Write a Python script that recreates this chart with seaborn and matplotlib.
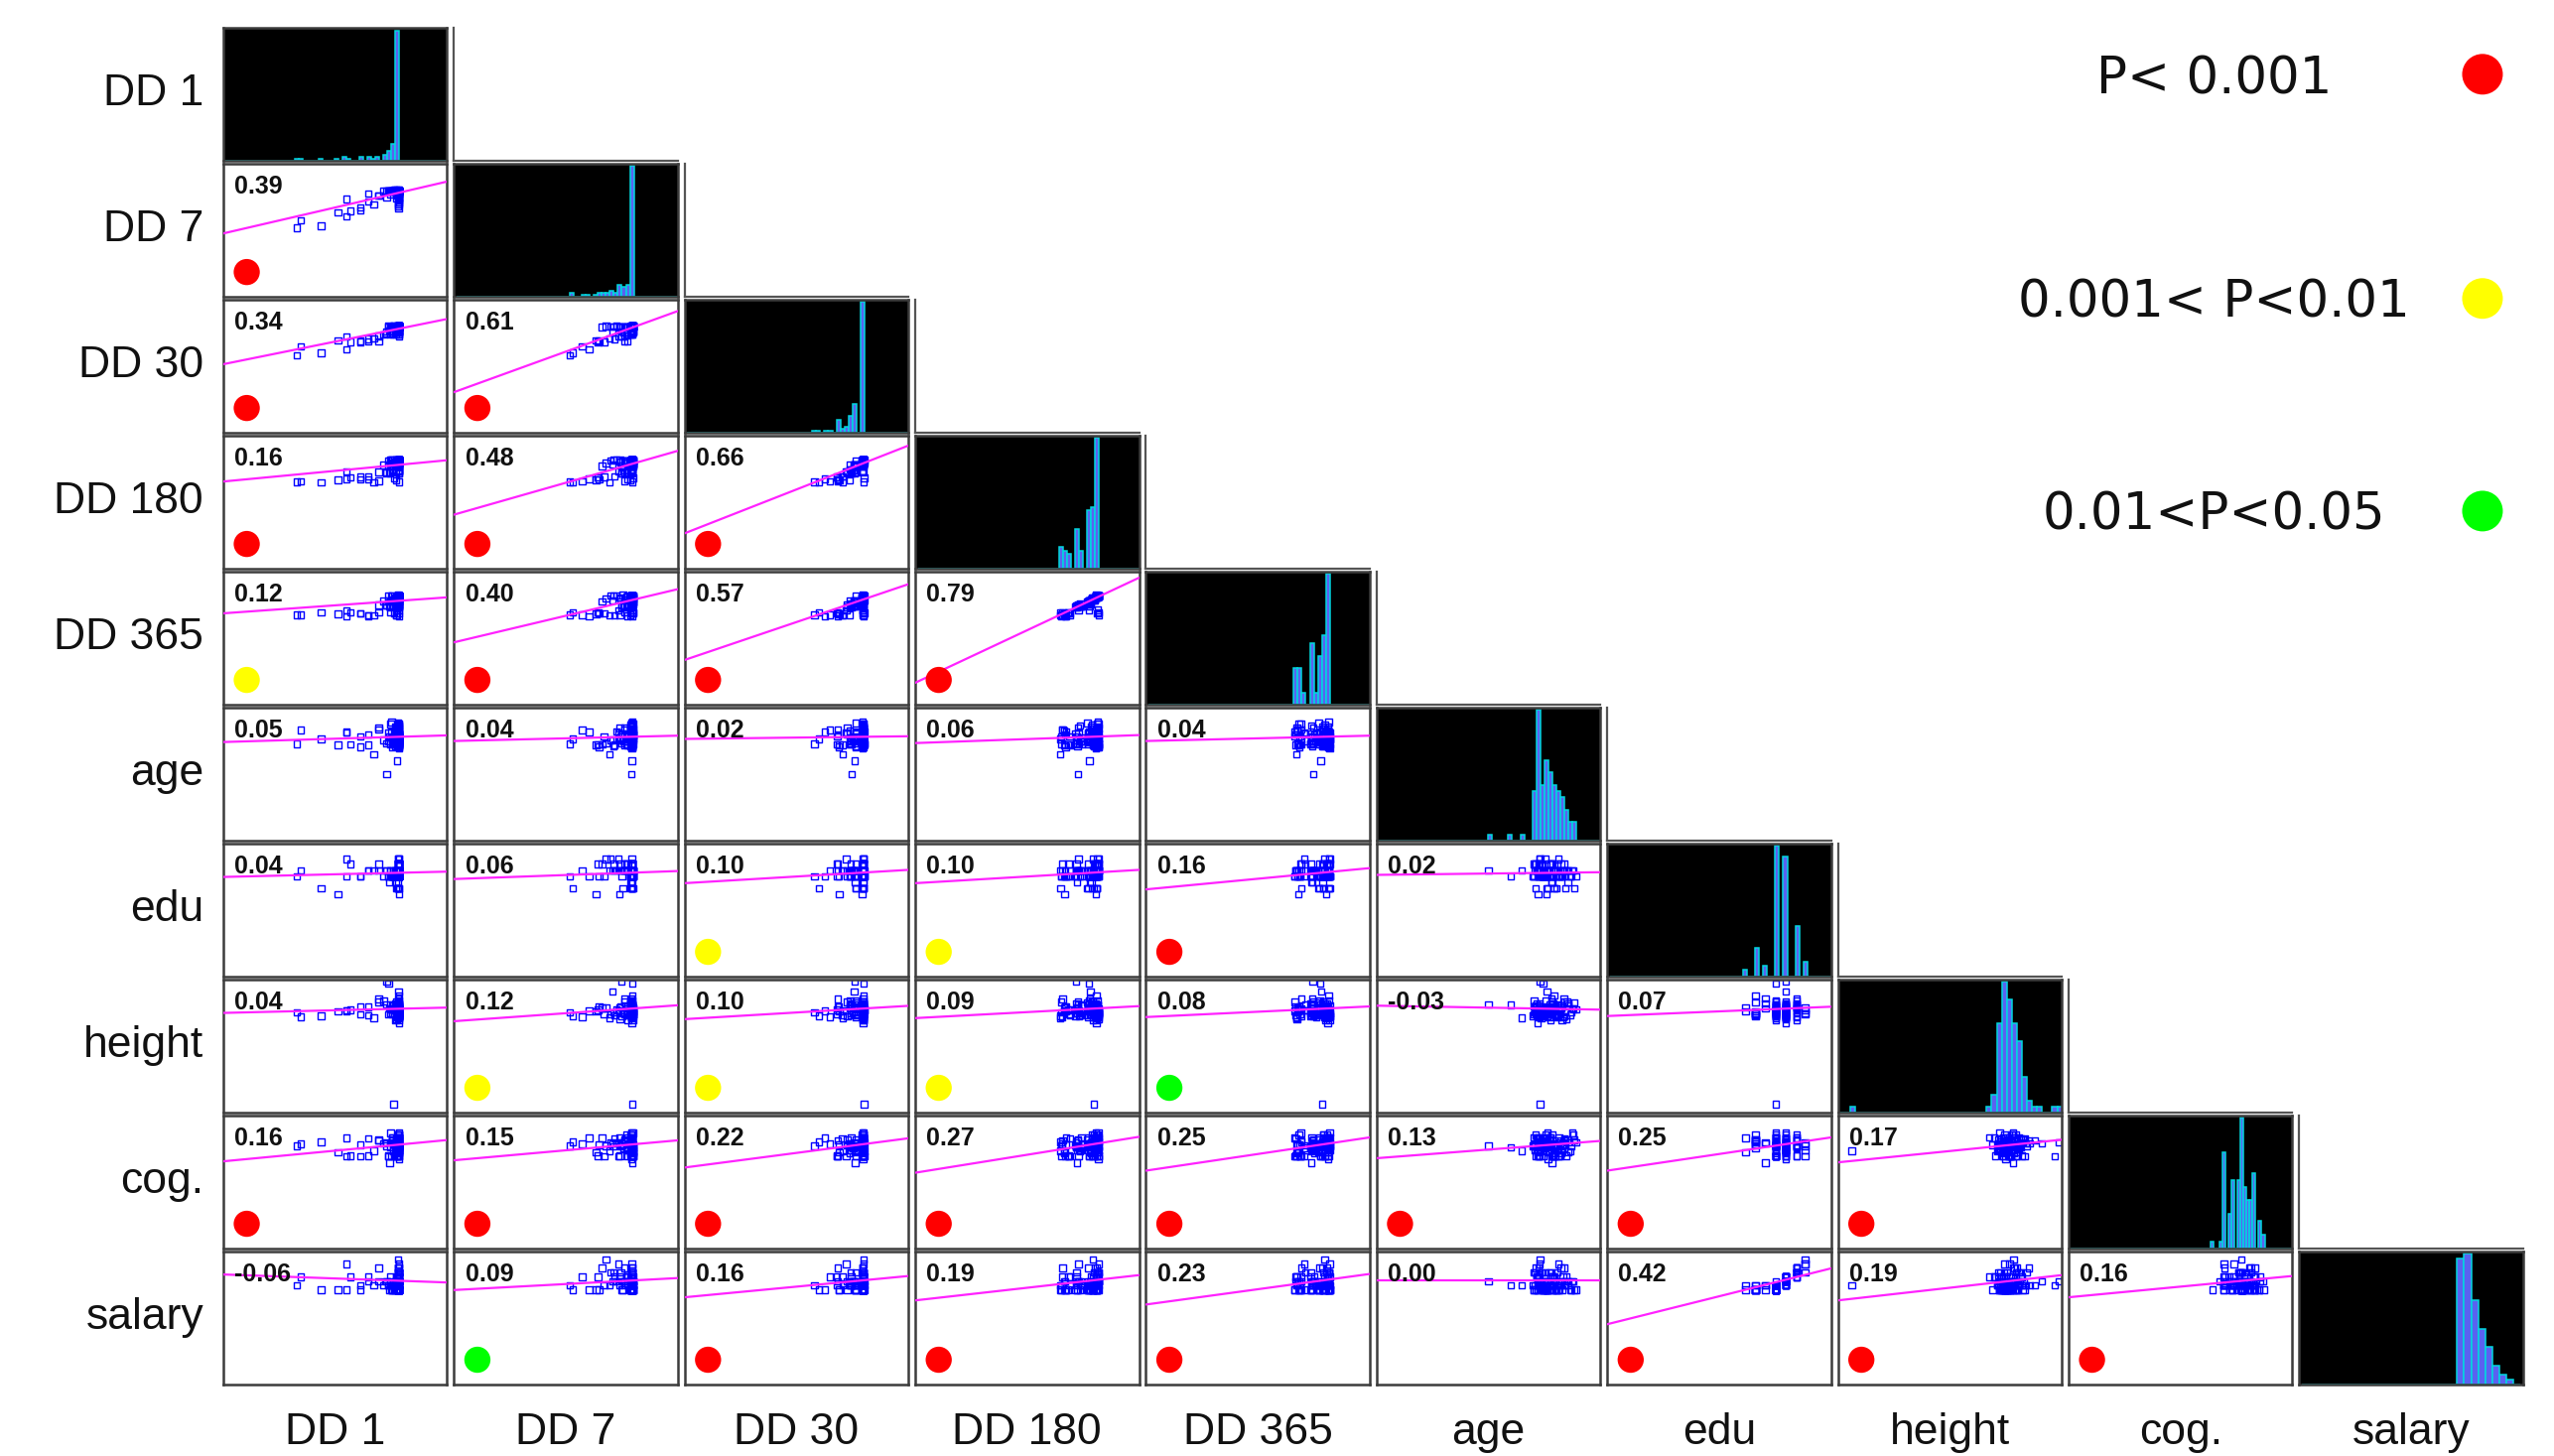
import numpy as np
import pandas as pd
import matplotlib
matplotlib.use("Agg")
import matplotlib.pyplot as plt
import seaborn as sns

sns.set_theme(style="white")
plt.rcParams["font.family"] = ["Liberation Sans", "DejaVu Sans"]

variables = ["DD 1", "DD 7", "DD 30", "DD 180", "DD 365",
             "age", "edu", "height", "cog.", "salary"]

# Standardized scores (z) for each participant, one list per measure
dd1 = [-10.0, -2.9, -7.6, -0.22, -5.1, 0.12, -3.7, -9.6, 0.05, -5.9,
       -1.9, 0.1, -4.7, -0.5, -2.4, -0.02, -3.7, -1.1, -5.1, -1.4,
       -2.9, 0.13, -0.8, 0.08, -1.9, -0.12, -0.2, 0.11, 0.02, -0.46,
       -0.65, 0.06, -1.1, 0.13, -0.08, -0.18, 0.1, 0.04, -0.78, 0.12,
       0.09, -0.52, 0.13, -0.04, -0.35, -0.21, 0.07, 0.12, 0.01, 0.11,
       -0.16, 0.1, 0.13, 0.05, -0.57, 0.11, -0.06, 0.12, 0.08, 0.13,
       -0.9, 0.02, -0.23, 0.12, 0.09, 0.13, -0.3, 0.11, 0.06, -0.19,
       0.12, 0.08, 0.13, -0.03, -0.6, 0.11, 0.04, 0.13, 0.09, 0.12,
       -0.95, 0.13, -0.07, 0.11, 0.12, 0.05, -0.4, 0.13, 0.08, 0.12,
       0.11, 0.13, 0.1, -0.7, 0.12, 0.09, 0.13, -0.13, 0.11, 0.1]

dd7 = [-5.8, -0.1, -5.5, 0.32, -3.9, 0.41, -2.4, -4.6, 0.22, -3.2,
       -0.4, 0.36, -3.0, 0.27, -1.9, 0.45, -2.9, -0.7, -1.0, 0.3,
       -1.4, 0.19, 0.38, -0.12, -0.42, 0.33, 0.48, -0.66, 0.25, 0.4,
       0.35, -0.05, 0.29, 0.44, -0.35, 0.21, 0.37, 0.31, -0.16, 0.42,
       -1.6, 0.39, -0.74, 0.34, 0.47, 0.23, -0.45, 0.36, -2.2, 0.43,
       0.28, -0.08, 0.4, 0.33, 0.24, -1.2, 0.35, 0.38, -0.2, 0.31,
       0.37, 0.27, 0.42, -0.9, 0.44, 0.34, 0.22, 0.39, 0.32, 0.41,
       0.29, -2.6, 0.35, 0.25, 0.4, 0.36, 0.31, 0.45, 0.33, -1.5,
       0.42, 0.3, 0.37, 0.34, 0.28, -0.55, 0.39, 0.32, 0.41, 0.36,
       0.33, 0.4, -1.8, 0.43, 0.35, 0.38, 0.3, -0.85, 0.37, 0.34]

dd30 = [-4.4, -2.1, -4.0, -0.32, -3.4, -0.83, -2.15, -2.9, 0.41, -1.95,
        -1.2, 0.36, -2.2, -0.76, -1.6, 0.47, -2.0, -0.45, -1.27, -0.9,
        -1.65, 0.33, -0.38, -0.8, -2.1, 0.44, -0.52, -1.15, 0.29, -0.86,
        -0.3, 0.42, -0.72, -0.41, 0.38, -0.95, 0.45, -0.35, -0.8, 0.31,
        -0.48, 0.4, 0.35, -0.33, 0.49, 0.43, -0.56, 0.37, 0.46, -0.39,
        0.39, 0.44, -0.29, 0.34, 0.42, 0.48, -0.44, 0.36, 0.41, 0.33,
        0.45, 0.38, 0.43, 0.3, 0.47, -0.36, 0.4, 0.35, 0.44, 0.39,
        0.42, 0.36, 0.46, 0.41, 0.33, 0.44, 0.38, 0.47, 0.4, 0.37,
        0.43, 0.39, 0.35, 0.45, 0.42, 0.37, 0.48, 0.41, 0.34, 0.44,
        0.4, 0.46, 0.38, 0.43, 0.36, 0.42, 0.45, 0.39, 0.47, 0.41]

dd180 = [-2.8, -2.45, -2.9, -1.2, -2.35, -1.3, -2.0, -2.75, -0.15, -2.5,
         -1.15, 0.3, -2.1, -0.8, -2.95, 0.72, -2.4, -1.35, -1.1, -0.05,
         -1.95, 0.22, -1.25, -0.92, -2.7, 0.85, -0.2, -1.4, 0.41, -0.75,
         -0.1, 0.66, -1.18, 0.0, 0.35, -2.55, 0.78, -0.22, -1.32, 0.27,
         0.05, 0.9, 0.45, -0.12, -2.15, 0.18, -0.85, 0.63, 0.33, 0.08,
         0.25, 0.74, -0.18, 0.5, -1.22, 0.81, -0.02, 0.38, 0.69, -0.98,
         -0.08, 0.87, 0.29, 0.6, 0.1, 0.76, 0.46, -1.08, 0.7, 0.2,
         0.83, -0.14, 0.65, 0.36, 0.79, 0.92, 0.03, 0.68, 0.24, 0.88,
         0.73, 0.61, -0.06, 0.84, 0.77, 0.66, 0.43, 0.89, 0.71, 0.8,
         0.64, -2.85, 0.75, 0.86, 0.62, 0.82, 0.7, 0.91, 0.67, 0.78]

dd365 = [-2.3, -2.5, -1.9, -0.8, -2.6, -0.95, -2.05, -2.35, -0.15, -2.2,
         -0.7, 0.25, -1.95, -0.88, -2.4, 0.85, -2.1, -0.75, -1.6, -0.05,
         -2.45, 0.4, -0.9, -0.5, -1.88, 0.7, -0.2, -1.0, 0.3, -0.82,
         0.0, 0.9, -0.72, -0.1, 0.2, -2.3, 0.62, -0.18, -0.97, 0.48,
         0.1, 0.8, 0.35, -0.42, -2.0, 0.22, -0.85, 0.93, 0.44, -0.22,
         0.28, 0.75, -0.12, 0.18, -0.78, 0.88, 0.05, 0.37, 0.66, -0.92,
         -0.03, 0.82, 0.5, 0.58, -0.6, 0.86, 0.26, -0.7, 0.9, 0.33,
         0.78, -0.08, 0.6, 0.42, 0.84, 0.92, -0.8, 0.73, 0.31, 0.87,
         0.81, 0.69, -1.55, 0.89, 0.76, 0.94, 0.16, 0.83, 0.65, 0.88,
         0.72, -2.55, 0.86, -1.95, 0.91, -1.5, 0.79, -2.35, 0.84, -2.12]

age = [-1.2, 0.42, -0.37, -1.62, 0.8, -1.12, 0.06, 1.18, -0.86, -1.3,
       1.55, -0.44, -1.22, -0.1, -2.9, 0.31, -1.7, -1.08, 0.72, -0.5,
       -1.38, 2.0, 0.1, -0.74, 1.26, -1.16, -0.3, 0.48, -1.55, -1.25,
       0.88, -0.05, -6.2, -0.58, -1.35, 1.02, -0.95, 2.3, -1.18, 0.24,
       -0.4, -1.75, 0.0, 0.62, -1.28, 1.66, -0.7, -0.34, -1.1, -0.18,
       1.3, -1.4, 0.52, -1.5, -0.62, 0.9, -4.0, -1.2, 0.13, 1.9,
       -0.8, -1.33, 1.1, -0.47, 0.36, -1.66, -0.12, -1.06, 0.68, 1.42,
       -0.28, -1.24, -0.98, 0.2, 2.45, -1.14, 0.04, 1.33, -0.55, -1.58,
       0.76, -1.43, -0.68, -0.22, 1.7, -0.39, -1.09, 0.45, 0.98, -0.9,
       -1.32, 0.09, -0.6, 2.1, -1.8, 0.58, -0.78, 1.5, 0.27, 2.2]

edu = [-0.6, 0.4, -2.6, 0.4, -0.6, 1.5, -0.6, 0.4, -0.6, -3.6,
       0.4, -0.6, 1.5, -0.6, 0.4, -2.6, -0.6, 0.4, 2.3, -0.6,
       0.4, -0.6, -1.6, 0.4, 1.5, -0.6, 0.4, -0.6, -2.6, 0.4,
       -0.6, 1.5, 0.4, -0.6, 0.4, -0.6, 1.5, -2.6, 0.4, -0.6,
       0.4, -0.6, 1.5, 0.4, -0.6, -1.6, 0.4, -0.6, 2.3, 0.4,
       -0.6, 0.4, -2.6, 1.5, -0.6, 0.4, -0.6, 0.4, 1.5, -0.6,
       -0.6, 0.4, -0.6, -3.6, 0.4, 1.5, -0.6, 0.4, -0.6, -2.6,
       0.4, 1.5, -0.6, 0.4, -0.6, 2.3, -1.6, 0.4, -0.6, 1.5,
       -0.6, 0.4, -0.6, 1.5, 0.4, -2.6, -0.6, 0.4, 1.5, -0.6,
       0.4, -0.6, 2.3, 0.4, -0.6, 1.5, -0.6, 0.4, -2.6, 0.4]

height = [-0.62, 0.31, -1.21, 0.12, -0.33, 0.84, -0.91, -1.38, 0.27, -0.47,
          1.12, -0.72, -0.18, 0.63, -1.47, -0.84, 0.41, 4.6, -0.26, 1.31,
          -1.11, -0.58, 0.08, -0.97, 1.66, -0.41, 0.22, -1.29, -0.77, 0.52,
          -0.12, -1.82, 0.71, -0.49, -0.88, 0.18, -1.17, 1.02, -0.68, -0.31,
          2.9, -0.94, 0.36, -1.42, -0.21, 0.89, -0.63, -1.24, 0.14, -0.81,
          1.24, -0.37, -1.08, 0.46, -0.74, -0.16, 0.67, -1.33, 0.03, -0.99,
          4.2, -0.52, -1.93, 0.24, -0.86, 1.38, -0.28, -1.19, 0.58, -0.43,
          -0.69, 0.11, -1.51, 0.93, -0.12, -0.79, 1.71, -1.26, 0.33, -0.57,
          -0.95, 0.78, -0.23, -1.36, 0.49, -0.66, -15.9, -1.02, 0.19, -0.39,
          -2.31, 1.18, -0.83, 0.06, -1.14, 0.61, -0.47, -1.69, 2.21, -0.09]

cog = [-0.2, -1.85, 0.45, -0.95, 1.1, -0.4, -1.95, 0.15, -0.1, -1.3,
       0.8, -0.15, -1.8, 1.2, -1.0, -0.5, -0.05, 0.4, -1.9, 0.25,
       1.05, -0.2, -3.0, -0.9, 0.75, -1.8, -0.45, -0.12, 1.6, 0.1,
       -1.9, 1.15, -0.18, -1.05, 0.5, -1.35, -0.08, 0.85, -0.35, -1.85,
       0.2, 1.2, -0.22, -0.92, -1.95, 0.42, -0.5, 2.05, -0.15, -1.25,
       1.0, -0.88, -0.1, -1.82, 0.7, 0.3, -0.42, -0.2, 1.7, -1.1,
       -1.9, 0.55, -0.02, 1.12, -1.4, -0.3, 0.08, -0.97, -0.16, 0.9,
       -2.3, 1.18, -0.06, -1.88, 0.38, -0.9, 0.2, -0.52, 1.6, -0.24,
       -1.82, 1.08, -0.12, 0.8, -1.22, 0.12, -1.0, -0.38, 0.6, -0.04,
       1.22, -1.95, 0.3, 1.95, -0.2, -0.48, 1.12, -1.86, 0.72, 1.65]

salary = [-0.8, -0.1, -1.5, -0.8, -1.5, 1.4, -0.8, 0.6, -1.5, -1.5,
          -0.1, -1.5, 0.6, -0.8, -0.8, -1.5, -1.5, -0.1, 2.8, -0.8,
          0.6, -1.5, -1.5, -0.8, 2.1, -0.8, -0.1, -1.5, -1.5, -0.8,
          -0.8, 0.6, -0.1, -1.5, -0.8, -0.1, 1.4, -1.5, 0.6, -0.8,
          -0.1, -1.5, 1.4, -0.8, -1.5, -0.8, -0.1, -1.5, 3.5, -0.8,
          -0.8, 0.6, -1.5, 2.1, -1.5, -0.1, -0.8, -0.1, 0.6, -1.5,
          -0.8, -0.1, -1.5, -0.8, 0.6, 1.4, -0.8, -0.1, -1.5, -0.8,
          -0.1, 2.1, -0.8, 0.6, -1.5, 2.8, -0.8, -0.1, -1.5, 1.4,
          -0.8, 0.6, -1.5, 1.4, -0.1, -1.5, -0.8, -0.1, 2.1, -0.8,
          0.6, -1.5, 1.4, -0.1, -0.8, 1.4, -1.5, 0.6, -0.8, -0.1]

# Pearson r for each pair below the diagonal, row by row
corr_rows = [
    [0.39],
    [0.34, 0.61],
    [0.16, 0.48, 0.66],
    [0.12, 0.40, 0.57, 0.79],
    [0.05, 0.04, 0.02, 0.06, 0.04],
    [0.04, 0.06, 0.10, 0.10, 0.16, 0.02],
    [0.04, 0.12, 0.10, 0.09, 0.08, -0.03, 0.07],
    [0.16, 0.15, 0.22, 0.27, 0.25, 0.13, 0.25, 0.17],
    [-0.06, 0.09, 0.16, 0.19, 0.23, 0.00, 0.42, 0.19, 0.16],
]
# significance class: 3 = P<0.001, 2 = 0.001<P<0.01, 1 = 0.01<P<0.05, 0 = n.s.
sig_rows = [
    [3],
    [3, 3],
    [3, 3, 3],
    [2, 3, 3, 3],
    [0, 0, 0, 0, 0],
    [0, 0, 2, 2, 3, 0],
    [0, 2, 2, 2, 1, 0, 0],
    [3, 3, 3, 3, 3, 3, 3, 3],
    [0, 1, 3, 3, 3, 0, 3, 3, 3],
]
legend_labels = ["P< 0.001", "0.001< P<0.01", "0.01<P<0.05"]
legend_classes = [3, 2, 1]
sig_colors = {3: "#ff0000", 2: "#ffff00", 1: "#00ff00"}
bin_widths = [0.4, 0.4, 0.4, 0.4, 0.4, 0.4, 0.4, 0.5, 0.3, 0.7]

data = pd.DataFrame({
    "DD 1": dd1, "DD 7": dd7, "DD 30": dd30, "DD 180": dd180,
    "DD 365": dd365, "age": age, "edu": edu, "height": height,
    "cog.": cog, "salary": salary,
})

lim = (-17.3, 4.9)
label_font = ["Liberation Sans", "DejaVu Sans"]
frame_color = "#3c3c3c"

fig = plt.figure(figsize=(25.73, 14.67), dpi=100, facecolor="white")
gs = fig.add_gridspec(10, 10, left=0.0874, right=0.9879, bottom=0.0492,
                      top=0.981, wspace=0.03, hspace=0.022)

n = len(variables)
axes = [[None] * n for _ in range(n)]


def style_frame(ax, color=frame_color, lw=1.8):
    ax.set_xticks([])
    ax.set_yticks([])
    ax.set_xlabel("")
    ax.set_ylabel("")
    for sp in ax.spines.values():
        sp.set_visible(True)
        sp.set_color(color)
        sp.set_linewidth(lw)


for i in range(n):
    for j in range(i + 1):
        ax = fig.add_subplot(gs[i, j])
        axes[i][j] = ax
        vy = variables[i]
        vx = variables[j]
        if i == j:
            bw = bin_widths[i]
            edges = np.arange(-17.05, 5.2, bw)
            sns.histplot(x=data[vx].to_numpy(), bins=edges, ax=ax,
                         color="#5a62f0", edgecolor="#00d8e0",
                         linewidth=1.1, alpha=1.0)
            ax.set_facecolor("black")
            top = max(p.get_height() for p in ax.patches)
            ax.set_ylim(0, top * 1.02)
        else:
            r = corr_rows[i - 1][j]
            s = sig_rows[i - 1][j]
            sns.scatterplot(x=data[vx].to_numpy(), y=data[vy].to_numpy(),
                            ax=ax, marker="s", s=22, facecolor="none",
                            edgecolor="#0000ff", linewidth=1.0,
                            legend=False, zorder=2)
            xs = np.array(lim)
            ax.plot(xs, r * xs, color="#ff22ff", linewidth=1.6, zorder=3)
            ax.set_ylim(*lim)
            ax.text(0.05, 0.83, f"{r:.2f}", transform=ax.transAxes,
                    fontsize=18, fontweight="bold", ha="left", va="center",
                    color="#111111", zorder=4)
            if s > 0:
                ax.scatter([0.105], [0.185], transform=ax.transAxes, s=360,
                           color=sig_colors[s], edgecolor="none", zorder=5,
                           clip_on=False)
            ax.set_facecolor("white")
        ax.set_xlim(*lim)
        style_frame(ax)

# open frames right of each diagonal cell
for i in range(n - 1):
    ax = fig.add_subplot(gs[i, i + 1])
    ax.patch.set_alpha(0)
    ax.set_xticks([])
    ax.set_yticks([])
    for name, sp in ax.spines.items():
        if name in ("left", "bottom"):
            sp.set_visible(True)
            sp.set_color("#555555")
            sp.set_linewidth(1.6)
        else:
            sp.set_visible(False)

# variable names
for k, v in enumerate(variables):
    pos = axes[k][0].get_position()
    fig.text(0.0797, (pos.y0 + pos.y1) / 2, v, ha="right", va="center",
             fontsize=32, family=label_font, color="#111111")
    posx = axes[n - 1][k].get_position()
    fig.text((posx.x0 + posx.x1) / 2, 0.008, v, ha="center", va="baseline",
             fontsize=32, family=label_font, color="#111111")

# significance key
lax = fig.add_axes([0, 0, 1, 1], zorder=-1)
lax.set_xlim(0, 1)
lax.set_ylim(0, 1)
lax.axis("off")
key_y = [0.945, 0.792, 0.646]
dot_y = [0.949, 0.795, 0.649]
for lab, cls, y, dy in zip(legend_labels, legend_classes, key_y, dot_y):
    lax.text(0.867, y, lab, ha="center", va="center", fontsize=37,
             family=["DejaVu Sans"], color="#111111")
    lax.scatter([0.972], [dy], s=870, color=sig_colors[cls], edgecolor="none")

fig.savefig("out.png", dpi=100, facecolor="white")
